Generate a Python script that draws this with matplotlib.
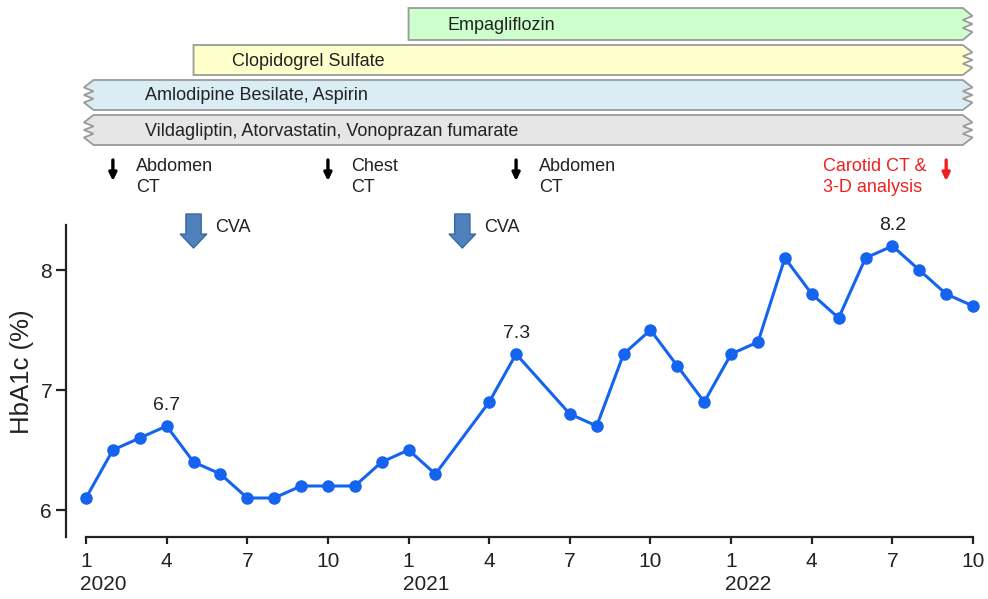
import numpy as np
import matplotlib
matplotlib.use("Agg")
import matplotlib.pyplot as plt
from matplotlib.patches import Polygon
from matplotlib.transforms import blended_transform_factory, offset_copy

plt.rcParams["font.family"] = ["Liberation Sans", "DejaVu Sans"]

# ── Dados ─────────────────────────────────────────────────────────────────────
# mês 0 = jan/2020
meses = [0, 1, 2, 3, 4, 5, 6, 7, 8, 9, 10, 11, 12, 13,
         15, 16, 18, 19, 20, 21, 22, 23, 24, 25, 26, 27, 28, 29, 30, 31, 32, 33]
hba1c = [6.1, 6.5, 6.6, 6.7, 6.4, 6.3, 6.1, 6.1, 6.2, 6.2, 6.2, 6.4, 6.5, 6.3,
         6.9, 7.3, 6.8, 6.7, 7.3, 7.5, 7.2, 6.9, 7.3, 7.4, 8.1, 7.8, 7.6, 8.1, 8.2, 8.0, 7.8, 7.7]
rotulos_idx = [3, 15, 28]          # pontos com valor escrito

tick_pos = [0, 3, 6, 9, 12, 15, 18, 21, 24, 27, 30, 33]
tick_lab = ["1", "4", "7", "10", "1", "4", "7", "10", "1", "4", "7", "10"]
anos = ["2020", "2021", "2022"]
anos_pos = [0, 12, 24]

farmacos = ["Empagliflozin", "Clopidogrel Sulfate", "Amlodipine Besilate, Aspirin",
            "Vildagliptin, Atorvastatin, Vonoprazan fumarate"]
farm_ini = [12, 4, 0, 0]
farm_fim = [33, 33, 33, 33]
farm_serrilhado_esq = [False, False, True, True]
farm_cores = ["#ccffcc", "#ffffcc", "#daedf4", "#e6e6e6"]

exames = ["Abdomen\nCT", "Chest\nCT", "Abdomen\nCT", "Carotid CT &\n3-D analysis"]
exames_mes = [1, 9, 16, 32]
exames_cor = ["black", "black", "black", "#f02020"]

cva_mes = [4, 14]

# ── Layout (pixels da figura) ─────────────────────────────────────────────────
W, H = 988, 599
PX0, PXM = 86, 26.88               # pixel do mês 0 e pixels por mês
x_esq, x_dir = (66 - PX0) / PXM, (985 - PX0) / PXM
AZUL = "#1464f0"
TXT = "#222222"

fig = plt.figure(figsize=(W / 100, H / 100), dpi=100)
ax = fig.add_axes([66 / W, 1 - 537 / H, (985 - 66) / W, (537 - 225) / H])

ax.plot(meses, hba1c, color=AZUL, lw=2.2, marker="o", ms=8, zorder=3)
for i in rotulos_idx:
    ax.annotate(f"{hba1c[i]:.1f}", (meses[i], hba1c[i]), xytext=(0, 15),
                textcoords="offset points", ha="center", va="center",
                fontsize=14, color=TXT)

ax.set_xlim(x_esq, x_dir)
ax.set_ylim(6 - 27 / 120, 8 + 45 / 120)
ax.set_yticks([6, 7, 8])
ax.set_xticks(tick_pos)
ax.set_xticklabels(tick_lab)
ax.spines["top"].set_visible(False)
ax.spines["right"].set_visible(False)
ax.spines["bottom"].set_bounds(0, 33)
for s in ("left", "bottom"):
    ax.spines[s].set_linewidth(1.6)
    ax.spines[s].set_color(TXT)
ax.tick_params(axis="x", length=5, width=1.6, pad=6, labelsize=15, colors=TXT)
ax.tick_params(axis="y", length=7, width=1.6, pad=3, labelsize=15, colors=TXT)
ax.set_ylabel("HbA1c (%)", fontsize=18.5, color=TXT)
ax.yaxis.set_label_coords(-32 / 919, (537 - 372) / 312)

trans_ano = offset_copy(blended_transform_factory(ax.transData, fig.transFigure),
                        fig=fig, x=-6, y=0, units="dots")
for a, p in zip(anos, anos_pos):
    ax.text(p, 1 - 585 / H, a, transform=trans_ano, ha="left", va="center",
            fontsize=15, color=TXT)

# ── Camada superior: fármacos, exames e CVA (y em pixels) ─────────────────────
top = fig.add_axes([66 / W, 0, (985 - 66) / W, 1])
top.set_xlim(x_esq, x_dir)
top.set_ylim(H, 0)
top.axis("off")

faixas = [(8, 40), (45, 75), (80, 110), (115, 145)]
amp = 0.18
for nome, ini, fim, serr, cor, (y0, y1) in zip(farmacos, farm_ini, farm_fim,
                                                farm_serrilhado_esq, farm_cores, faixas):
    ys = np.linspace(y0, y1, 9)
    zz = np.array([-1, 0, 1, -1, 1, -1, 1, 0, -1]) * amp
    dir_pts = [(fim - 0.2 + z, y) for z, y in zip(zz, ys)]
    if serr:
        esq_pts = [(ini + 0.1 - z, y) for z, y in zip(zz[::-1], ys[::-1])]
    else:
        esq_pts = [(ini, y1), (ini, y0)]
    top.add_patch(Polygon(dir_pts + esq_pts, closed=True, fc=cor, ec="#9a9a9a",
                          lw=1.3, clip_on=False))
    tx = ini + 1.45 if not serr else 2.2
    top.text(tx, (y0 + y1) / 2 + 1, nome, ha="left", va="center", fontsize=13,
             color=TXT)

for txt, m, cor in zip(exames, exames_mes, exames_cor):
    top.annotate("", xy=(m, 181), xytext=(m, 160),
                 arrowprops=dict(arrowstyle="-|>,head_length=0.45,head_width=0.22",
                                 color=cor, lw=2.4, shrinkA=0, shrinkB=0))
    if cor == "black":
        top.text(m + 0.85, 158, txt, ha="left", va="top", fontsize=13,
                 color=TXT, linespacing=1.3)
    else:
        top.text(m - 0.75, 158, txt, ha="right", va="top", fontsize=13,
                 color=cor, linespacing=1.3, multialignment="left")

for m in cva_mes:
    top.annotate("", xy=(m, 248), xytext=(m, 214),
                 arrowprops=dict(arrowstyle="simple,head_length=0.5,head_width=0.95,tail_width=0.55",
                                 mutation_scale=20, fc="#4f81bd", ec="#3b679c", lw=1,
                                 shrinkA=0, shrinkB=0))
    top.text(m + 0.8, 228, "CVA", ha="left", va="center", fontsize=13, color=TXT)

fig.savefig("out.png", dpi=100)
